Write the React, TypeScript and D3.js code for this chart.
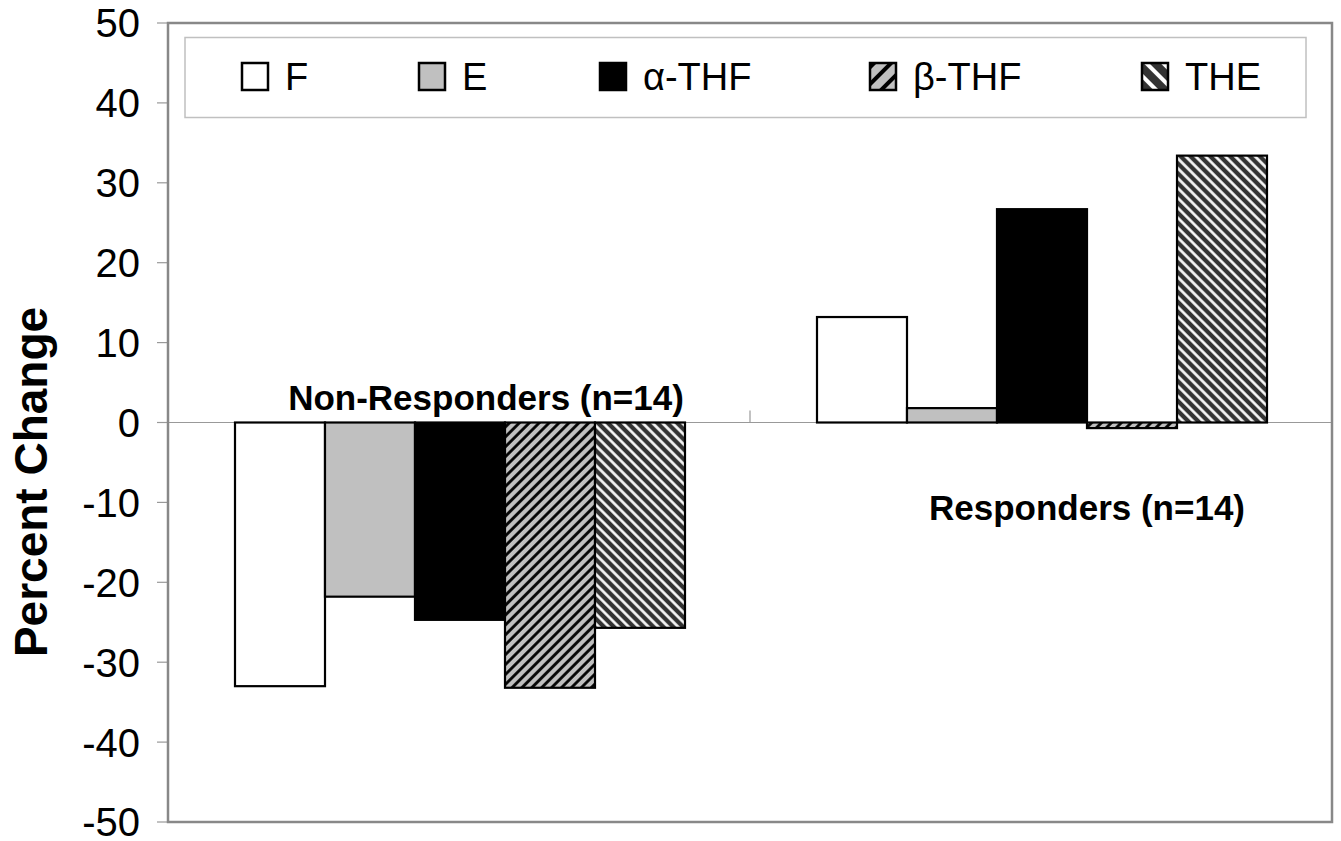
import * as d3 from 'd3'

const W = 1341
const H = 841

// chart data
const groups = ['Non-Responders (n=14)', 'Responders (n=14)']
const series = ['F', 'E', 'α-THF', 'β-THF', 'THE']
const nonResponders = [-33, -21.8, -24.7, -33.2, -25.7]
const responders = [13.2, 1.8, 26.7, -0.7, 33.4]
const yTicks = [-50, -40, -30, -20, -10, 0, 10, 20, 30, 40, 50]

const values = [nonResponders, responders]

const FONT = '"Liberation Sans", Arial, Helvetica, sans-serif'

const FILLS: Record<string, string> = {
  'F': '#ffffff',
  'E': '#c0c0c0',
  'α-THF': '#000000',
  'β-THF': 'url(#hatchUp)',
  'THE': 'url(#hatchDown)',
}
const LEGEND_FILLS: Record<string, string> = {
  ...FILLS,
  'β-THF': 'url(#hatchUpL)',
  'THE': 'url(#hatchDownL)',
}

// legend item left edges (layout only)
const legendX = [242, 419, 600, 870, 1142]

export default function App() {
  const plot = { left: 168, top: 23, right: 1332, bottom: 822 }

  const y = d3.scaleLinear().domain([-50, 50]).range([plot.bottom, plot.top])
  const x0 = d3.scaleBand<string>().domain(groups).range([plot.left, plot.right])
  const x1 = d3.scaleBand<string>().domain(series).range([67, 517])

  const zero = y(0)

  return (
    <svg width={W} height={H} style={{ position: 'absolute', left: 0, top: 0, background: '#fff' }}
      fontFamily={FONT}>
      <defs>
        <pattern id="hatchUp" patternUnits="userSpaceOnUse" width={7} height={7} patternTransform="rotate(45)">
          <rect width={7} height={7} fill="#c0c0c0" />
          <line x1={1.5} y1={0} x2={1.5} y2={7} stroke="#000" strokeWidth={2.8} />
        </pattern>
        <pattern id="hatchDown" patternUnits="userSpaceOnUse" width={7} height={7} patternTransform="rotate(-45)">
          <rect width={7} height={7} fill="#333333" />
          <line x1={1.5} y1={0} x2={1.5} y2={7} stroke="#fff" strokeWidth={2.6} />
        </pattern>
        <pattern id="hatchUpL" patternUnits="userSpaceOnUse" width={12} height={12} patternTransform="rotate(45)">
          <rect width={12} height={12} fill="#c0c0c0" />
          <line x1={3} y1={0} x2={3} y2={12} stroke="#000" strokeWidth={4} />
        </pattern>
        <pattern id="hatchDownL" patternUnits="userSpaceOnUse" width={12} height={12} patternTransform="rotate(-45)">
          <rect width={12} height={12} fill="#333333" />
          <line x1={3} y1={0} x2={3} y2={12} stroke="#fff" strokeWidth={4} />
        </pattern>
      </defs>

      {/* y axis ticks + labels */}
      {yTicks.map(t => (
        <g key={t}>
          <line x1={plot.left - 11} x2={plot.left} y1={y(t)} y2={y(t)} stroke="#999" strokeWidth={1.2} />
          <text x={140} y={y(t)} dy="0.36em" textAnchor="end" fontSize={40} fill="#000">{t}</text>
        </g>
      ))}

      {/* zero line */}
      <line x1={plot.left} x2={plot.right} y1={zero} y2={zero} stroke="#999" strokeWidth={1.2} />
      <line x1={x0(groups[1])!} x2={x0(groups[1])!} y1={zero - 12} y2={zero} stroke="#999" strokeWidth={1.2} />

      {/* bars */}
      {groups.map((g, gi) => (
        <g key={g} transform={`translate(${x0(g)},0)`}>
          {series.map((s, si) => {
            const v = values[gi][si]
            return (
              <rect key={s}
                x={x1(s)} width={x1.bandwidth()}
                y={Math.min(y(v), zero)} height={Math.abs(y(v) - zero)}
                fill={FILLS[s]} stroke="#000" strokeWidth={2.2} />
            )
          })}
        </g>
      ))}

      {/* group labels */}
      <text x={486} y={410} textAnchor="middle" fontSize={35} fontWeight="bold">{groups[0]}</text>
      <text x={1087} y={520} textAnchor="middle" fontSize={35} fontWeight="bold">{groups[1]}</text>

      {/* plot frame */}
      <rect x={plot.left} y={plot.top} width={plot.right - plot.left} height={plot.bottom - plot.top}
        fill="none" stroke="#888" strokeWidth={2.5} />

      {/* legend */}
      <rect x={185} y={37.5} width={1121} height={80} fill="#fff" stroke="#c0c0c0" strokeWidth={1.5} />
      {series.map((s, i) => (
        <g key={s} transform={`translate(${legendX[i]},63)`}>
          <rect x={0} y={0} width={26} height={27} fill={LEGEND_FILLS[s]} stroke="#000" strokeWidth={2.5} />
          <text x={43} y={27} fontSize={38} fill="#000">{s}</text>
        </g>
      ))}

      {/* y title */}
      <text transform={`translate(47,482) rotate(-90)`} textAnchor="middle" fontSize={46} fontWeight="bold">
        Percent Change
      </text>
    </svg>
  )
}
